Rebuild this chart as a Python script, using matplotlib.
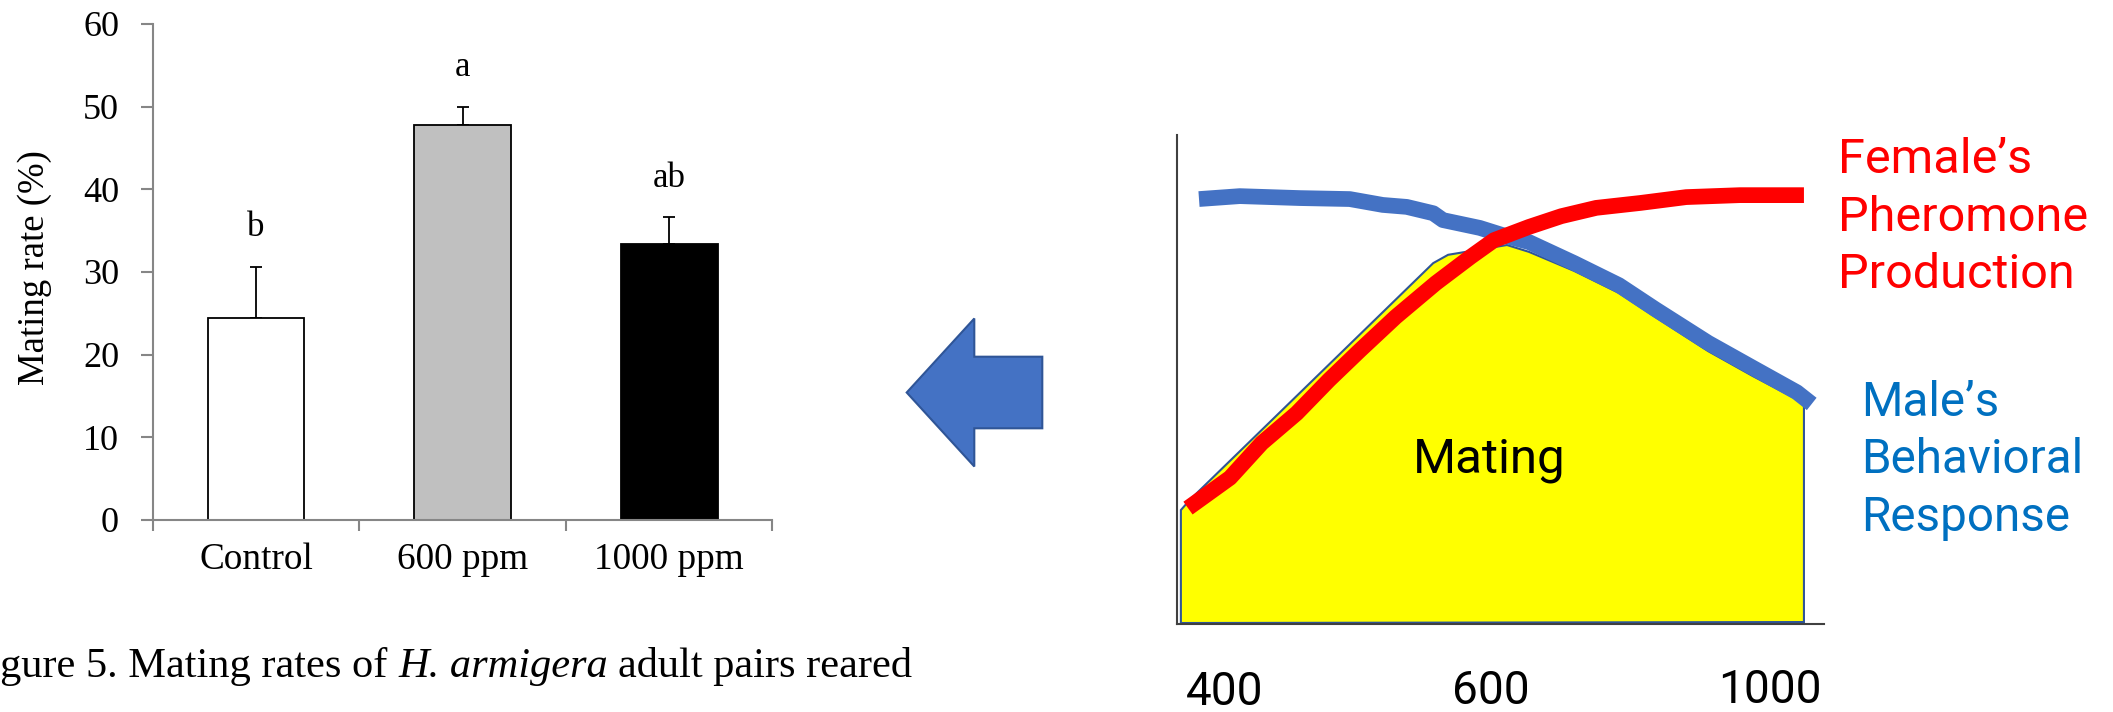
import matplotlib
matplotlib.use("Agg")
import matplotlib.pyplot as plt
import matplotlib.patches as mpatches
import numpy as np

plt.rcParams["font.family"] = "Liberation Serif"

# mating rate per treatment (mean + SE)
treatments = ["Control", "600 ppm", "1000 ppm"]
mating_rate = [24.4, 47.8, 33.4]
mating_se = [6.2, 2.2, 3.2]
bar_colors = ["white", "#c0c0c0", "black"]
sig_letters = ["b", "a", "ab"]

# schematic: response curves in relative units (0-100)
male_x = [3.4, 9.7, 19.0, 26.7, 31.8, 35.5, 39.6, 41.1, 46.8, 50.4, 54.4,
          61.4, 68.3, 73.9, 82.1, 89.0, 95.8, 98.1]
male_y = [86.9, 87.5, 87.1, 86.9, 85.7, 85.3, 84.0, 82.6, 81.0, 79.5, 78.1,
          73.8, 69.3, 64.4, 57.5, 52.4, 47.4, 45.0]
female_x = [1.7, 8.2, 13.1, 18.5, 23.5, 28.3, 33.8, 40.0, 45.4, 49.0, 54.4,
            59.4, 64.8, 71.6, 78.7, 87.0, 96.9]
female_y = [23.7, 29.9, 37.0, 43.1, 49.9, 56.0, 62.8, 69.7, 75.1, 78.5, 81.2,
            83.4, 85.1, 86.1, 87.3, 87.7, 87.7]
mating_x = [0.6, 0.6, 2.0, 39.6, 41.9, 51.0, 54.4, 61.4, 68.3, 73.9, 82.1,
            89.0, 96.9, 96.9]
mating_y = [0.2, 23.3, 25.4, 73.8, 75.5, 77.5, 76.1, 72.2, 67.7, 62.8, 55.8,
            50.7, 45.2, 0.4]
conc_labels = ["400", "600", "1000"]
conc_x = [7.4, 48.5, 91.7]
conc_y = [-16.6, -16.4, -16.2]

female_lines = ["Female\u2019s", "Pheromone", "Production"]
male_lines = ["Male\u2019s", "Behavioral", "Response"]
caption_parts = [("gure 5. Mating rates of", "normal"),
                 ("H. armigera", "italic"),
                 ("adult pairs reared", "normal")]

W, H = 2113, 712
fig = plt.figure(figsize=(W / 100, H / 100), dpi=100)

# --- bar chart ---
ax = fig.add_axes([152.7 / W, (H - 520) / H, 619.8 / W, 496 / H])
x = np.arange(len(treatments))
ax.bar(x, mating_rate, width=0.468, color=bar_colors, edgecolor="black",
       linewidth=1.3, zorder=2)
ax.errorbar(x, mating_rate, yerr=[np.zeros(len(x)), mating_se], fmt="none",
            ecolor="black", elinewidth=1.3, capsize=4.6, capthick=1.3, zorder=1)
for xi, m, s, lab in zip(x, mating_rate, mating_se, sig_letters):
    ax.text(xi, m + s + 3.7, lab, ha="center", va="baseline", fontsize=25)

ax.set_xlim(-0.5, 2.5)
ax.set_ylim(0, 60)
ax.set_yticks(range(0, 61, 10))
ax.set_xticks([-0.5, 0.5, 1.5, 2.5])
ax.set_xticklabels([])
ax.set_xticks(x, minor=True)
ax.set_xticklabels(treatments, minor=True)
ax.tick_params(axis="x", which="major", direction="out", length=8,
               width=1.5, color="#868686")
ax.tick_params(axis="x", which="minor", length=0, pad=16.5, labelsize=26.8)
ax.tick_params(axis="y", direction="out", length=8.6, width=1.5,
               color="#868686", pad=15.6, labelsize=26)
for side in ["top", "right"]:
    ax.spines[side].set_visible(False)
for side in ["left", "bottom"]:
    ax.spines[side].set_color("#868686")
    ax.spines[side].set_linewidth(1.5)

# --- schematic ---
ax2 = fig.add_axes([1177 / W, (H - 624) / H, 647 / W, 489 / H])
ax2.fill(mating_x, mating_y, facecolor="#ffff00", edgecolor="#2f5597",
         linewidth=1.5, zorder=1)
ax2.plot(male_x, male_y, color="#4472c4", lw=11.3, solid_capstyle="butt",
         solid_joinstyle="round", zorder=2)
ax2.plot(female_x, female_y, color="#ff0000", lw=11.3, solid_capstyle="butt",
         solid_joinstyle="round", zorder=3)
ax2.text(48.2, 30.9, "Mating", family="Roboto", fontsize=35.5, ha="center",
         va="baseline", zorder=4)
for lab, cx, cy in zip(conc_labels, conc_x, conc_y):
    ax2.text(cx, cy, lab, family="Roboto", fontsize=33, ha="center",
             va="baseline", clip_on=False)
ax2.set_xlim(0, 100)
ax2.set_ylim(0, 100)
ax2.set_xticks([])
ax2.set_yticks([])
for side in ["top", "right"]:
    ax2.spines[side].set_visible(False)
for side in ["left", "bottom"]:
    ax2.spines[side].set_color("#404040")
    ax2.spines[side].set_linewidth(1.5)

# --- overlay in pixel units: arrow, labels, caption ---
ov = fig.add_axes([0, 0, 1, 1])
ov.set_xlim(0, W)
ov.set_ylim(H, 0)
ov.axis("off")
ov.add_patch(mpatches.FancyArrow(1042.3, 392.5, -135.6, 0, width=71.6,
                                 head_width=148, head_length=67.6,
                                 length_includes_head=True,
                                 facecolor="#4472c4", edgecolor="#2f5597",
                                 linewidth=1.5))
for i, line in enumerate(female_lines):
    ov.text(1838, 173.3 + 57.5 * i, line, color="#ff0000", family="Roboto",
            fontsize=35, ha="left", va="baseline")
for i, line in enumerate(male_lines):
    ov.text(1861, 416 + 57.3 * i, line, color="#0070c0", family="Roboto",
            fontsize=34.3, ha="left", va="baseline")
ov.text(34.7, 268, "Mating rate (%)", rotation=90, ha="center", va="center",
        fontsize=26.5)

# caption: chain the pieces so the species name can be italic
renderer = fig.canvas.get_renderer()
probe_a = ov.text(0, 0, "n n", fontsize=30.5)
probe_b = ov.text(0, 0, "nn", fontsize=30.5)
space_w = (probe_a.get_window_extent(renderer).width
           - probe_b.get_window_extent(renderer).width)
probe_a.remove()
probe_b.remove()
cap_x = 0.0
for text, style in caption_parts:
    t = ov.text(cap_x, 677, text, fontsize=30.5, style=style,
                ha="left", va="baseline")
    cap_x += t.get_window_extent(renderer).width + space_w

fig.savefig("out.png", dpi=100)
